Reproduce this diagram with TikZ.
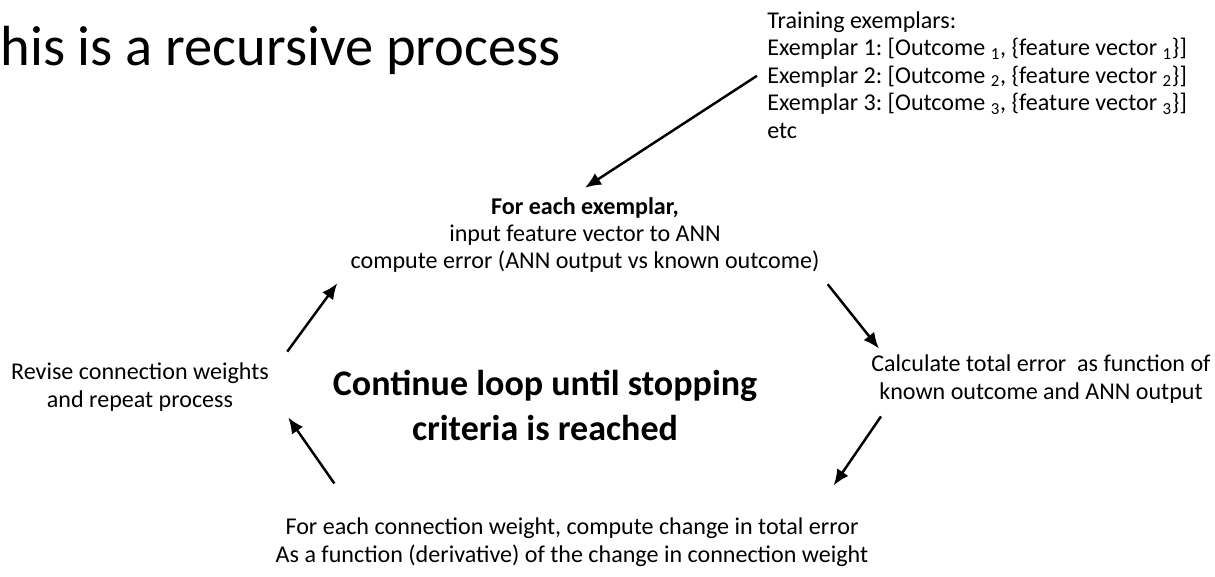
\documentclass[tikz,border=0pt]{standalone}
\usepackage{fontspec}
\setmainfont{Carlito}
\usetikzlibrary{arrows.meta}
\frenchspacing
\begin{document}
\begin{tikzpicture} [
        x=0.02cm, y=-0.02cm,
        txt/.style={inner sep=0pt, align=center, font=\fontsize{13.7}{15.65}\selectfont},
        big/.style={inner sep=0pt, align=center, font=\fontsize{20.5}{25.6}\selectfont\bfseries},
        arr/.style={-{Latex[length=0.32cm, width=0.27cm]}, line width=1.4pt} ]
    \useasboundingbox (0,0) rectangle (1215,577);
    \node[inner sep=0pt, anchor=base west, font=\fontsize{32.2}{38}\selectfont] (title) at (0,66) {his is a recursive process};
    \node[txt, anchor=north west, align=left] (train) at (767,11) {Training exemplars:\\
        Exemplar 1: [Outcome \textsubscript{1}, \{feature vector \textsubscript{1}\}]\\
        Exemplar 2: [Outcome \textsubscript{2}, \{feature vector \textsubscript{2}\}]\\
        Exemplar 3: [Outcome \textsubscript{3}, \{feature vector \textsubscript{3}\}]\\
        etc};
    \node[txt] (each) at (585,235) {\textbf{For each exemplar,}\\ input feature vector to ANN\\ compute error (ANN output vs known outcome)};
    \node[txt] (revise) at (140,387) {Revise connection weights\\ and repeat process};
    \node[big] (loop) at (545,405) {Continue loop until stopping\\ criteria is reached};
    \node[txt] (calc) at (1041,379) {Calculate total error~ as function of\\ known outcome and ANN output};
    \node[txt] (change) at (572,542) {For each connection weight, compute change in total error\\ As a function (derivative) of the change in connection weight};
    % loop arrows
    \draw[arr] ([shift={(-10,1)}]train.west) -- ([shift={(0,-9)}]each.north);
    \draw[arr] ([shift={(18,-11)}]revise.north east) -- ([shift={(-13,10)}]each.south west);
    \draw[arr] ([shift={(8,11)}]each.south east) -- ([shift={(8,-6)}]calc.north west);
    \draw[arr] ([shift={(10,13)}]calc.south west) -- ([shift={(-35,-32)}]change.north east);
    \draw[arr] ([shift={(59,-34)}]change.north west) -- ([shift={(19,6)}]revise.south east);
\end{tikzpicture}
\end{document}
